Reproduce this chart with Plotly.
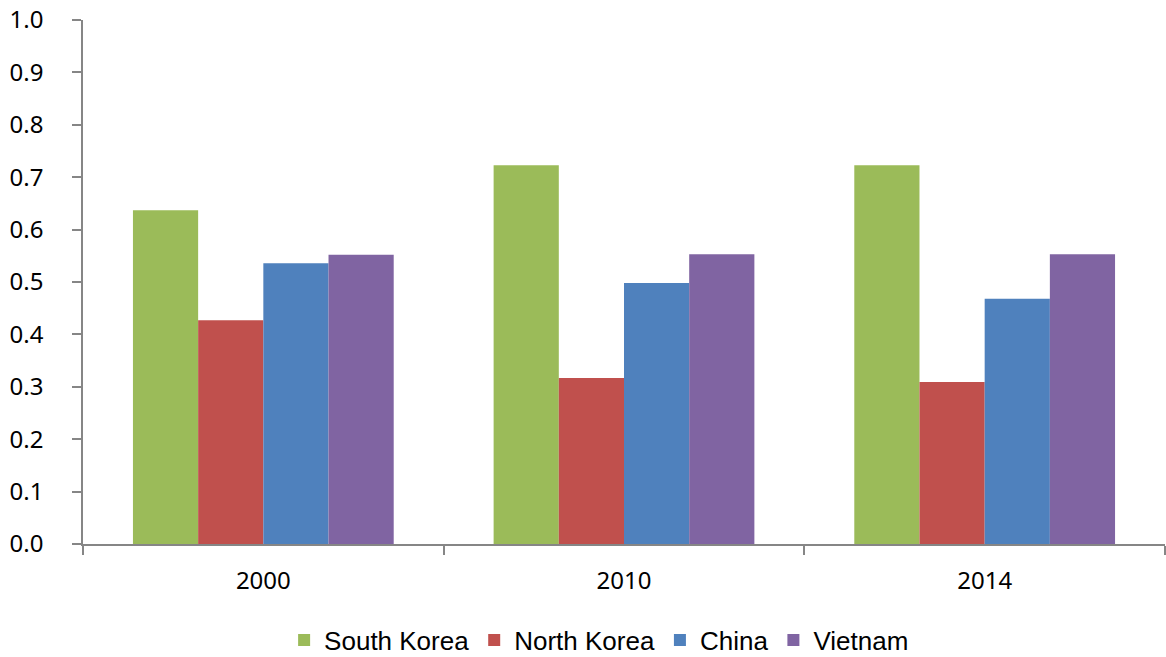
import plotly.graph_objects as go

years = ["2000", "2010", "2014"]
south_korea = [0.637, 0.723, 0.723]
north_korea = [0.427, 0.317, 0.309]
china = [0.536, 0.498, 0.468]
vietnam = [0.552, 0.553, 0.553]

series = [
    ("South Korea", south_korea, "#9BBB59"),
    ("North Korea", north_korea, "#C0504D"),
    ("China", china, "#4F81BD"),
    ("Vietnam", vietnam, "#8064A2"),
]

fig = go.Figure()
for name, vals, color in series:
    fig.add_trace(go.Bar(x=years, y=vals, name=name, marker=dict(color=color, line=dict(width=0))))

fig.update_layout(
    width=1166, height=657,
    margin=dict(l=83, r=1, t=20, b=113, autoexpand=False),
    paper_bgcolor="white", plot_bgcolor="white",
    barmode="group", bargap=0.277, bargroupgap=0,
    font=dict(family="Noto Sans", size=24, color="black"),
    legend=dict(orientation="h", x=0.477, xanchor="center", yref="container", y=1 - 640 / 657,
                yanchor="middle",
                font=dict(family="Liberation Sans", size=26, color="black"),
                itemwidth=30, traceorder="normal"),
    showlegend=True,
)
fig.update_xaxes(type="category", showline=True, linecolor="#868686", linewidth=1.5,
                 ticks="outside", tickson="boundaries", ticklen=9, tickcolor="#868686",
                 tickwidth=1.5, showgrid=False, tickfont=dict(size=24), ticklabelstandoff=14)
fig.update_yaxes(range=[0, 1], dtick=0.1, tickformat=".1f", showline=True, linecolor="#868686",
                 linewidth=1.5, ticks="outside", ticklen=9, tickcolor="#868686", tickwidth=1.5,
                 showgrid=False, zeroline=False, tickfont=dict(size=24), ticklabelstandoff=24)

fig.write_html("out.html")
